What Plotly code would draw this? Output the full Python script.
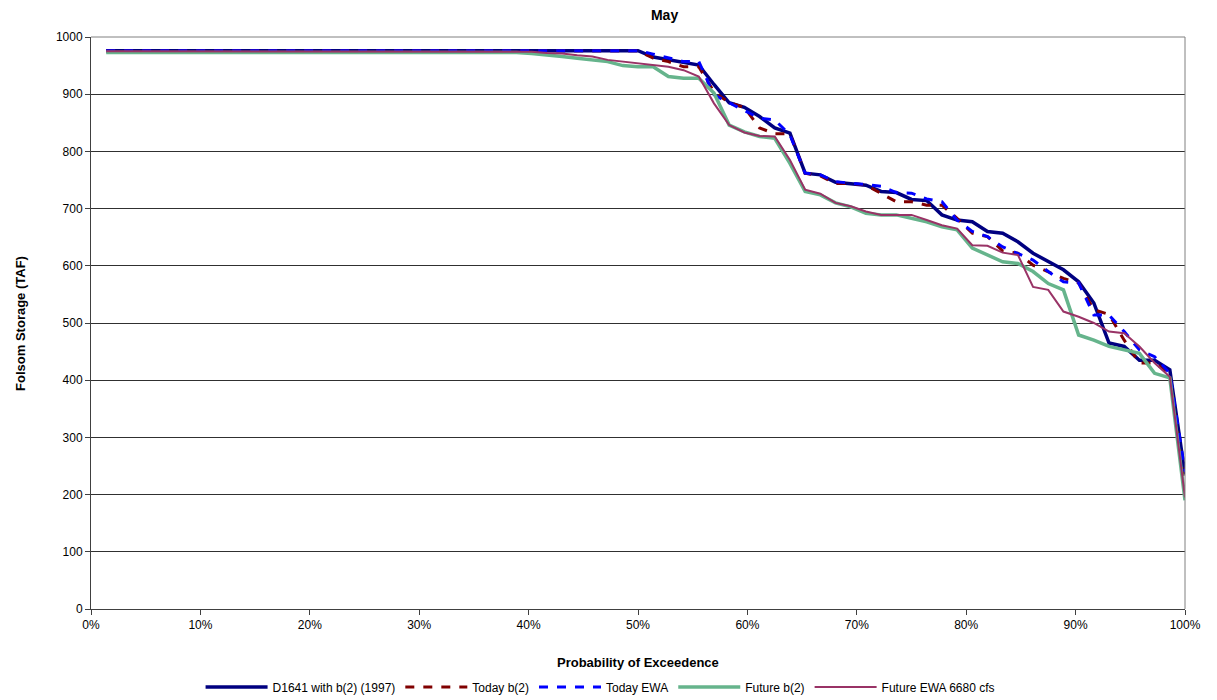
import plotly.graph_objects as go

N = 72
prob = [i / N for i in range(1, N + 1)]

d1641 = [976] * 36 + [965, 960, 955, 951, 917, 885, 877, 861, 841, 832, 762, 759, 746, 744, 741, 730,
                      728, 716, 714, 689, 680, 677, 660, 657, 642, 622, 607, 593, 572, 535, 465, 459,
                      435, 435, 418, 235]
today_b2 = [976] * 36 + [963, 957, 948, 948, 904, 885, 877, 841, 831, 831, 762, 757, 744, 744, 741, 726,
                         712, 712, 706, 706, 683, 657, 651, 626, 622, 601, 590, 578, 570, 523, 515, 470,
                         430, 430, 412, 205]
today_ewa = [976] * 36 + [970, 963, 957, 957, 899, 885, 872, 858, 855, 829, 762, 759, 747, 745, 742, 739,
                          728, 727, 717, 712, 680, 660, 651, 633, 622, 610, 590, 572, 570, 514, 514, 485,
                          453, 441, 412, 240]
future_b2 = [973] * 28 + [971, 969, 966, 963, 960, 957, 950, 948, 948, 931, 928, 928, 902, 846, 834, 826,
                          823, 779, 730, 724, 710, 703, 692, 689, 689, 683, 677, 668, 663, 631, 619, 607,
                          604, 590, 569, 558, 479, 470, 459, 453, 447, 412, 404, 190]
future_ewa = [975] * 28 + [974, 972, 971, 968, 966, 960, 957, 954, 952, 948, 942, 931, 884, 846, 833, 827,
                           826, 785, 733, 726, 710, 704, 695, 689, 689, 689, 680, 671, 665, 636, 635, 623,
                           619, 563, 558, 520, 511, 500, 485, 482, 459, 430, 406, 195]

x_ticks = [i / 10 for i in range(11)]
x_tick_text = [f"{i * 10}%" for i in range(11)]
y_ticks = list(range(0, 1001, 100))

series = [
    ("D1641 with b(2) (1997)", d1641, dict(color="#000080", width=3.5)),
    ("Today b(2)", today_b2, dict(color="#800000", width=3, dash="9px,9px")),
    ("Today EWA", today_ewa, dict(color="#0000FF", width=3, dash="9px,9px")),
    ("Future b(2)", future_b2, dict(color="#66B48C", width=3.5)),
    ("Future EWA 6680 cfs", future_ewa, dict(color="#993366", width=2)),
]

fig = go.Figure()
for name, vals, line in series:
    fig.add_trace(go.Scatter(x=prob, y=vals, mode="lines", name=name, line=line))

FONT = "Liberation Sans, Arial, sans-serif"
fig.update_layout(
    width=1217, height=700,
    margin=dict(l=83, r=40, t=29, b=99, autoexpand=False),
    paper_bgcolor="white", plot_bgcolor="white",
    font=dict(family=FONT, size=12, color="black"),
    title=dict(text="<b>May</b>", x=0.5243, xanchor="center", xref="paper",
               yref="container", y=0.99, yanchor="middle",
               pad=dict(t=0, b=0), font=dict(size=14, family=FONT)),
    showlegend=True,
    legend=dict(orientation="h", xref="container", x=0.4865, xanchor="center",
                yref="container", y=0.03, yanchor="middle",
                font=dict(size=12, family=FONT), tracegroupgap=0, itemwidth=62,
                bgcolor="rgba(0,0,0,0)"),
    xaxis=dict(range=[0, 1], tickvals=x_ticks, ticktext=x_tick_text, showgrid=False,
               showline=True, linecolor="#404040", linewidth=1, ticks="outside", ticklen=5,
               tickcolor="#404040", zeroline=False, tickfont=dict(size=12)),
    yaxis=dict(range=[0, 1000], tickvals=y_ticks, showgrid=True, gridcolor="#303030", gridwidth=1,
               showline=True, linecolor="#404040", linewidth=1, ticks="outside", ticklen=5,
               tickcolor="#404040", zeroline=False, tickfont=dict(size=12)),
)

fig.add_shape(type="line", xref="paper", yref="paper", x0=1, x1=1, y0=0, y1=1,
              line=dict(color="#808080", width=1))
fig.add_shape(type="line", xref="paper", yref="paper", x0=0, x1=1, y0=1, y1=1,
              line=dict(color="#808080", width=1))

fig.add_annotation(text="<b>Probability of Exceedence</b>", xref="paper", yref="paper",
                   x=0.5, y=-0.093, xanchor="center", yanchor="middle", showarrow=False,
                   font=dict(size=13, family=FONT))
fig.add_annotation(text="<b>Folsom Storage (TAF)</b>", xref="paper", yref="paper",
                   x=-0.065, y=0.5, xanchor="center", yanchor="middle", textangle=-90,
                   showarrow=False, font=dict(size=13, family=FONT))

fig.write_html("out.html")
